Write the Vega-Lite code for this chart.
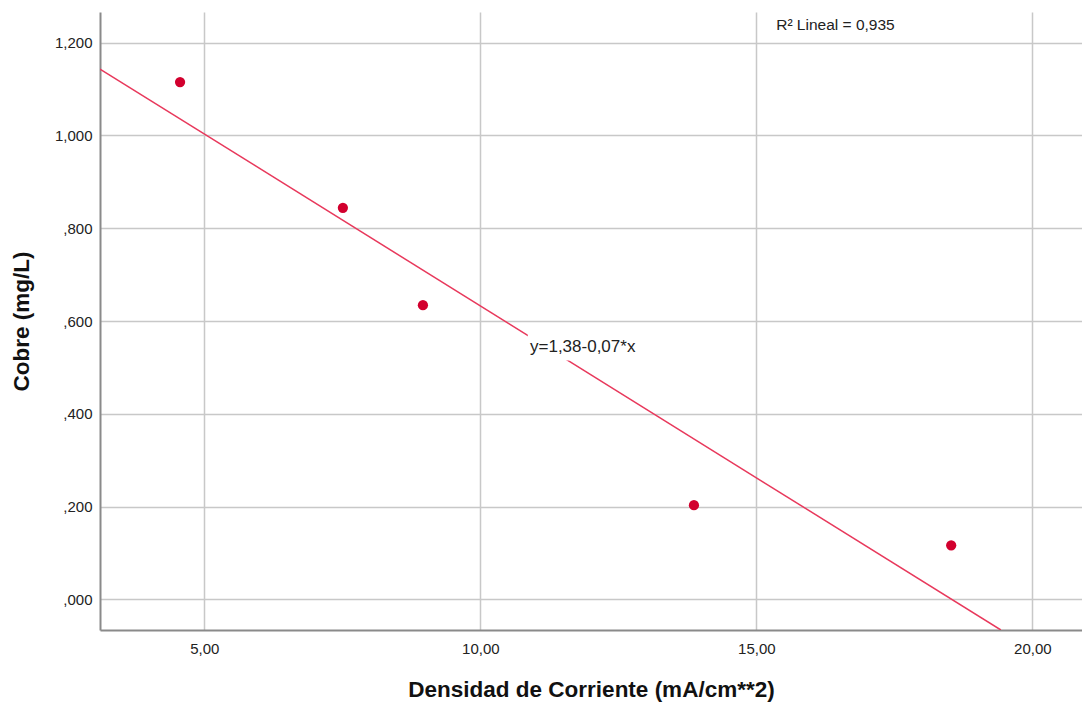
{
  "$schema": "https://vega.github.io/schema/vega-lite/v6.json",
  "width": 982,
  "height": 618,
  "autosize": "none",
  "padding": {"left": 100, "top": 12, "right": 0, "bottom": 72},
  "background": "white",
  "config": {
    "view": {"stroke": null},
    "font": "Liberation Sans"
  },
  "datasets": {
    "pts": [
      {"d": 4.56, "c": 1.115},
      {"d": 7.51, "c": 0.844},
      {"d": 8.96, "c": 0.634},
      {"d": 13.87, "c": 0.203},
      {"d": 18.53, "c": 0.1165}
    ],
    "fit": [
      {"d": 3.11, "c": 1.143},
      {"d": 19.43, "c": -0.066}
    ],
    "box": [
      {"x1": 10.86, "x2": 12.98, "y1": 0.515, "y2": 0.572}
    ],
    "labels": [
      {"d": 10.9, "c": 0.545, "t": "y=1,38-0,07*x", "s": 17},
      {"d": 15.36, "c": 1.238, "t": "R² Lineal = 0,935", "s": 15.5}
    ]
  },
  "layer": [
    {
      "data": {"name": "pts"},
      "mark": {"type": "point", "filled": true, "size": 105, "color": "#d2002e", "opacity": 1},
      "encoding": {
        "x": {
          "field": "d", "type": "quantitative",
          "scale": {"domain": [3.11, 20.9], "nice": false, "zero": false},
          "axis": {
            "title": "Densidad de Corriente (mA/cm**2)",
            "values": [5, 10, 15, 20],
            "labelExpr": "replace(format(datum.value, '.2f'), '.', ',')",
            "grid": true, "gridColor": "#c8c8c8", "gridWidth": 1.5,
            "domainColor": "#8a8a8a", "domainWidth": 2,
            "ticks": false, "labelPadding": 11,
            "labelFontSize": 15, "labelColor": "#222",
            "titleFontSize": 22.5, "titleFontWeight": "bold", "titleColor": "#111",
            "titlePadding": 22
          }
        },
        "y": {
          "field": "c", "type": "quantitative",
          "scale": {"domain": [-0.066, 1.266], "nice": false, "zero": false},
          "axis": {
            "title": "Cobre (mg/L)",
            "values": [0, 0.2, 0.4, 0.6, 0.8, 1.0, 1.2],
            "labelExpr": "datum.value < 1 ? ',' + substring(format(datum.value, '.3f'), 2) : replace(format(datum.value, '.3f'), '.', ',')",
            "grid": true, "gridColor": "#c8c8c8", "gridWidth": 1.5,
            "domainColor": "#8a8a8a", "domainWidth": 2,
            "ticks": false, "labelPadding": 8,
            "labelFontSize": 15, "labelColor": "#222",
            "titleFontSize": 22.5, "titleFontWeight": "bold", "titleColor": "#111",
            "titlePadding": 21
          }
        }
      }
    },
    {
      "data": {"name": "fit"},
      "mark": {"type": "line", "color": "#e8395c", "strokeWidth": 1.5, "clip": true},
      "encoding": {
        "x": {"field": "d", "type": "quantitative"},
        "y": {"field": "c", "type": "quantitative"}
      }
    },
    {
      "data": {"name": "box"},
      "mark": {"type": "rect", "color": "white"},
      "encoding": {
        "x": {"field": "x1", "type": "quantitative"},
        "x2": {"field": "x2"},
        "y": {"field": "y1", "type": "quantitative"},
        "y2": {"field": "y2"}
      }
    },
    {
      "data": {"name": "labels"},
      "mark": {"type": "text", "align": "left", "baseline": "middle", "color": "#222"},
      "encoding": {
        "x": {"field": "d", "type": "quantitative"},
        "y": {"field": "c", "type": "quantitative"},
        "text": {"field": "t"},
        "size": {"field": "s", "type": "quantitative", "scale": null, "legend": null}
      }
    }
  ]
}
